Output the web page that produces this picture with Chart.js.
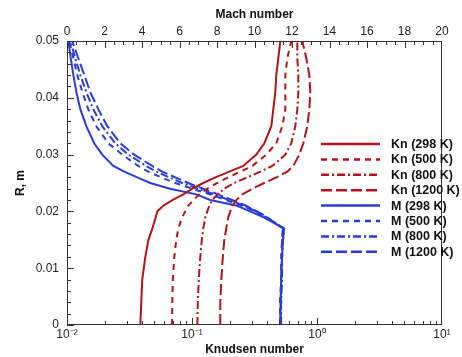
<!DOCTYPE html>
<html>
<head>
<meta charset="utf-8">
<script src="https://cdn.jsdelivr.net/npm/chart.js@4.4.1/dist/chart.umd.min.js"></script>
<style>
html,body{margin:0;padding:0;background:#fff;}
#c{display:block;}
</style>
</head>
<body>
<canvas id="c" width="462" height="357"></canvas>
<script>
// Radial position R, m (shared grid for all curves)
const R = [0, 0.004, 0.008, 0.012, 0.015, 0.017, 0.019, 0.020, 0.021, 0.022, 0.023, 0.024,
           0.025, 0.026, 0.027, 0.028, 0.030, 0.032, 0.035, 0.038, 0.041, 0.044, 0.047, 0.050];

// Knudsen number profiles
const kn298  = [0.0386, 0.0393, 0.0400, 0.0423, 0.0448, 0.0482, 0.0513, 0.0528, 0.0589, 0.0696, 0.0852, 0.1006,
                0.1231, 0.1536, 0.1988, 0.2573, 0.3269, 0.3789, 0.4310, 0.4472, 0.4640, 0.4725, 0.4903, 0.5087];
const kn500  = [0.0692, 0.0696, 0.0702, 0.0722, 0.0749, 0.0777, 0.0836, 0.0884, 0.0934, 0.1024, 0.1144, 0.1326,
                0.1594, 0.1952, 0.2434, 0.3038, 0.3930, 0.4725, 0.5278, 0.5578, 0.5578, 0.5578, 0.5788, 0.6229];
const kn800  = [0.1103, 0.1113, 0.1133, 0.1165, 0.1198, 0.1231, 0.1278, 0.1326, 0.1375, 0.1454, 0.1594, 0.1813,
                0.2180, 0.2770, 0.3519, 0.4390, 0.5578, 0.6229, 0.6706, 0.6958, 0.7087, 0.7087, 0.6958, 0.6958];
const kn1200 = [0.1684, 0.1684, 0.1716, 0.1764, 0.1813, 0.1881, 0.1952, 0.2025, 0.2101, 0.2262, 0.2526, 0.3038,
                0.3789, 0.4725, 0.5788, 0.6462, 0.7217, 0.7772, 0.8365, 0.8679, 0.8841, 0.8679, 0.8213, 0.7630];

// Mach number profiles
const m298  = [11.36, 11.39, 11.42, 11.47, 11.52, 11.58, 10.46, 9.77, 9.07, 7.64, 6.89, 5.50,
               4.44, 3.75, 3.05, 2.47, 1.88, 1.45, 1.03, 0.71, 0.50, 0.34, 0.20, 0.07];
const m500  = [11.36, 11.36, 11.42, 11.42, 11.47, 11.52, 10.57, 10.03, 9.34, 8.49, 7.63, 6.67,
               5.77, 5.02, 4.33, 3.80, 2.95, 2.20, 1.56, 1.13, 0.82, 0.55, 0.34, 0.12];
const m800  = [11.42, 11.42, 11.47, 11.47, 11.52, 11.58, 10.62, 10.08, 9.45, 8.65, 7.85, 6.99,
               6.14, 5.45, 4.76, 4.22, 3.27, 2.57, 1.88, 1.40, 1.03, 0.71, 0.44, 0.18];
const m1200 = [11.36, 11.42, 11.42, 11.47, 11.47, 11.52, 10.67, 10.14, 9.55, 8.81, 8.06, 7.26,
               6.46, 5.77, 5.08, 4.54, 3.58, 2.84, 2.15, 1.67, 1.24, 0.92, 0.60, 0.28];

const seriesLabels = ['Kn (298 K)', 'Kn (500 K)', 'Kn (800 K)', 'Kn (1200 K)',
                      'M (298 K)', 'M (500 K)', 'M (800 K)', 'M (1200 K)'];
const yTicks = [0, 0.01, 0.02, 0.03, 0.04, 0.05];
const knTicks = [0.01, 0.1, 1, 10];
const machTicks = [0, 2, 4, 6, 8, 10, 12, 14, 16, 18, 20];

const RED = '#b3141c';
const BLUE = '#2b3bd8';
const dashes = [[], [6, 5], [8, 3, 2, 3], [11, 4]];
const FONT = '"Liberation Sans", Arial, Helvetica, sans-serif';

function pts(xs) { return xs.map((v, i) => ({x: v, y: R[i]})); }
const knSeries = [kn298, kn500, kn800, kn1200];
const mSeries = [m298, m500, m800, m1200];

const datasets = [];
knSeries.forEach((s, i) => datasets.push({
  label: seriesLabels[i], data: pts(s), xAxisID: 'xKn', yAxisID: 'y',
  borderColor: RED, backgroundColor: RED, borderWidth: 2, borderDash: dashes[i],
  showLine: true, pointRadius: 0, tension: 0
}));
mSeries.forEach((s, i) => datasets.push({
  label: seriesLabels[4 + i], data: pts(s), xAxisID: 'xM', yAxisID: 'y',
  borderColor: BLUE, backgroundColor: BLUE, borderWidth: 2, borderDash: dashes[i],
  showLine: true, pointRadius: 0, tension: 0
}));

const sup = {'-2': '\u207B\u00B2', '-1': '\u207B\u00B9', '0': '\u2070', '1': '\u00B9'};

const decor = {
  id: 'decor',
  afterDraw(chart) {
    const ctx = chart.ctx;
    const a = chart.chartArea;
    const ys = chart.scales.y, xk = chart.scales.xKn, xm = chart.scales.xM;
    ctx.save();
    ctx.strokeStyle = '#333';
    ctx.lineWidth = 1;
    // box
    ctx.strokeRect(a.left + 0.5, a.top + 0.5, a.right - a.left - 1, a.bottom - a.top - 1);
    ctx.beginPath();
    // y ticks (inward)
    for (let k = 0; k <= 25; k++) {
      const v = k * 0.002;
      const p = Math.round(ys.getPixelForValue(v)) + 0.5;
      const len = (k % 5 === 0) ? 7 : 4;
      ctx.moveTo(a.left, p); ctx.lineTo(a.left + len, p);
    }
    // bottom log ticks
    for (let e = -2; e <= 0; e++) {
      for (let m = 1; m <= 9; m++) {
        const v = m * Math.pow(10, e);
        const p = Math.round(xk.getPixelForValue(v)) + 0.5;
        const len = m === 1 ? 7 : 4;
        ctx.moveTo(p, a.bottom); ctx.lineTo(p, a.bottom - len);
      }
    }
    { const p = Math.round(xk.getPixelForValue(10)) - 0.5; ctx.moveTo(p, a.bottom); ctx.lineTo(p, a.bottom - 7); }
    // top Mach ticks
    for (let k = 0; k <= 40; k++) {
      const v = k * 0.5;
      let p = Math.round(xm.getPixelForValue(v)) + 0.5;
      if (k === 40) p -= 1;
      const len = (k % 4 === 0) ? 7 : 4;
      ctx.moveTo(p, a.top); ctx.lineTo(p, a.top + len);
    }
    ctx.stroke();

    // axis titles
    ctx.fillStyle = '#111';
    ctx.font = 'bold 12px ' + FONT;
    ctx.textAlign = 'center';
    ctx.textBaseline = 'middle';
    const cx = (a.left + a.right) / 2;
    ctx.fillText('Mach number', cx, 15);
    ctx.fillText('Knudsen number', cx, 350);
    ctx.save();
    ctx.translate(21, (a.top + a.bottom) / 2);
    ctx.rotate(-Math.PI / 2);
    ctx.fillText('R, m', 0, 0);
    ctx.restore();

    // legend
    const lx0 = 321, lx1 = 380, tx = 391, ty0 = 144, dy = 15.4;
    ctx.font = 'bold 12.5px ' + FONT;
    ctx.textAlign = 'left';
    chart.data.datasets.forEach((ds, i) => {
      const y = ty0 + i * dy;
      ctx.save();
      ctx.strokeStyle = ds.borderColor;
      ctx.lineWidth = 2.5;
      ctx.setLineDash(ds.borderDash);
      ctx.beginPath();
      ctx.moveTo(lx0, y); ctx.lineTo(lx1, y);
      ctx.stroke();
      ctx.restore();
      ctx.fillStyle = '#111';
      ctx.fillText(ds.label, tx, y + 0.5);
    });
    ctx.restore();
  }
};

new Chart(document.getElementById('c'), {
  type: 'scatter',
  data: { datasets },
  options: {
    responsive: false,
    animation: false,
    layout: { padding: { right: 20, left: 0, top: 0, bottom: 0 } },
    plugins: { legend: { display: false }, tooltip: { enabled: false } },
    scales: {
      y: {
        type: 'linear', position: 'left', min: 0, max: 0.05,
        afterBuildTicks(s) { s.ticks = yTicks.map(v => ({value: v})); },
        ticks: { padding: 8, color: '#222', font: { family: FONT, size: 12 },
                 callback: v => String(+v.toFixed(2)) },
        grid: { display: false, drawTicks: false },
        border: { display: false },
        afterFit(s) { s.width = 67; }
      },
      xKn: {
        type: 'logarithmic', position: 'bottom', min: 0.01, max: 10,
        afterBuildTicks(s) { s.ticks = knTicks.map(v => ({value: v})); },
        ticks: { padding: 2, color: '#222', autoSkip: false, maxRotation: 0,
                 font: { family: FONT, size: 12 },
                 callback: v => '10' + sup[String(Math.round(Math.log10(v)))] },
        grid: { display: false, drawTicks: false },
        border: { display: false },
        afterFit(s) { s.height = 32; }
      },
      xM: {
        type: 'linear', position: 'top', min: 0, max: 20,
        afterBuildTicks(s) { s.ticks = machTicks.map(v => ({value: v})); },
        ticks: { padding: 2, color: '#222', autoSkip: false, maxRotation: 0,
                 font: { family: FONT, size: 12 } },
        grid: { display: false, drawTicks: false },
        border: { display: false },
        afterFit(s) { s.height = 41; }
      }
    }
  },
  plugins: [decor]
});
</script>
</body>
</html>
